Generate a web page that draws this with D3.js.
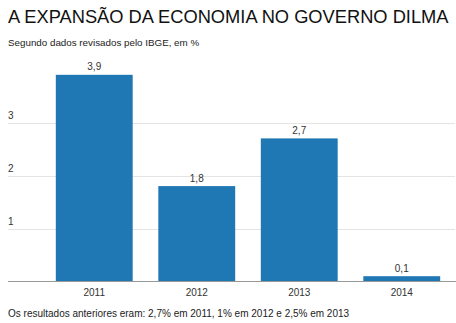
<!DOCTYPE html>
<html><head><meta charset="utf-8">
<script src="https://cdn.jsdelivr.net/npm/d3@7"></script>
<style>body{margin:0;background:#fff}svg{display:block;font-family:"Liberation Sans",Arial,sans-serif}</style>
</head><body><svg id="c" width="456" height="323"></svg>
<script>
const categories = ["2011","2012","2013","2014"];
const values = [3.9,1.8,2.7,0.1];
const valueLabels = ["3,9","1,8","2,7","0,1"];
const yTicks = [1,2,3];

const svg = d3.select("#c");
const x = d3.scaleBand().domain(categories).range([43,453]).paddingInner(0.25).paddingOuter(0.125);
const y = d3.scaleLinear().domain([0,4]).range([281.5,69.5]);

svg.append("text").attr("x",8).attr("y",23).attr("font-size",18.3).attr("fill","#111").text("A EXPANSÃO DA ECONOMIA NO GOVERNO DILMA");
svg.append("text").attr("x",8).attr("y",46).attr("font-size",9.8).attr("fill","#222").text("Segundo dados revisados pelo IBGE, em %");

const g = svg.append("g");
g.selectAll("line.grid").data(yTicks).join("line").attr("class","grid")
 .attr("x1",8).attr("x2",455).attr("y1",d=>Math.round(y(d))+0.5).attr("y2",d=>Math.round(y(d))+0.5)
 .attr("stroke","#e4e4e4").attr("stroke-width",1);
g.selectAll("text.tick").data(yTicks).join("text").attr("class","tick")
 .attr("x",8).attr("y",d=>y(d)-4).attr("font-size",10).attr("fill","#333").text(d=>d);

g.selectAll("rect").data(values).join("rect")
 .attr("x",(d,i)=>x(categories[i])).attr("width",x.bandwidth())
 .attr("y",d=>y(d)).attr("height",d=>y(0)-y(d)).attr("fill","#1f77b4");
g.selectAll("text.val").data(values).join("text").attr("class","val")
 .attr("x",(d,i)=>x(categories[i])+x.bandwidth()/2).attr("y",d=>y(d)-4.5)
 .attr("text-anchor","middle").attr("font-size",10).attr("fill","#333").text((d,i)=>valueLabels[i]);

g.append("line").attr("x1",8).attr("x2",456).attr("y1",281.5).attr("y2",281.5).attr("stroke","#999").attr("stroke-width",1);
g.selectAll("text.cat").data(categories).join("text").attr("class","cat")
 .attr("x",d=>x(d)+x.bandwidth()/2).attr("y",296).attr("text-anchor","middle").attr("font-size",10).attr("fill","#333").text(d=>d);

svg.append("text").attr("x",8).attr("y",317).attr("font-size",10).attr("fill","#222").text("Os resultados anteriores eram: 2,7% em 2011, 1% em 2012 e 2,5% em 2013");
svg.append("text").attr("x",8).attr("y",332).attr("font-size",10).attr("fill","#222").text("Fonte: IBGE");
</script></body></html>
